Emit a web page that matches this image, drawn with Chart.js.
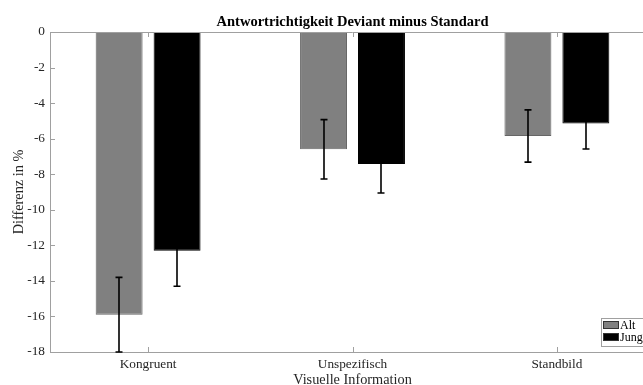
<!DOCTYPE html>
<html><head><meta charset="utf-8">
<script src="https://cdn.jsdelivr.net/npm/chart.js@4/dist/chart.umd.min.js"></script>
<style>html,body{margin:0;padding:0;overflow:hidden;background:#fff;width:643px;height:385px}canvas{display:block}</style>
</head><body>
<canvas id="c" width="655" height="392" style="width:655px;height:392px"></canvas>
<script>
const categories = ['Kongruent', 'Unspezifisch', 'Standbild'];
const altValues = [-15.9, -6.6, -5.85];
const altErrors = [2.1, 1.67, 1.47];
const jungValues = [-12.3, -7.43, -5.15];
const jungErrors = [2.0, 1.63, 1.43];
const yTicks = [0, -2, -4, -6, -8, -10, -12, -14, -16, -18];

const FONT = '"Liberation Serif", "Times New Roman", serif';
const AXIS = '#a0a0a0';
const TXT = '#262626';

const toPts = (vals) => vals.map((v, i) => ({x: i + 1, y: v}));

const errorBars = {
  id: 'errorBars',
  afterDatasetsDraw(chart) {
    const ctx = chart.ctx, ys = chart.scales.y;
    ctx.save();
    ctx.strokeStyle = '#000000';
    ctx.lineWidth = 1.6;
    chart.data.datasets.forEach((ds, di) => {
      const meta = chart.getDatasetMeta(di);
      meta.data.forEach((el, i) => {
        const v = ds.data[i].y, e = ds.errors[i];
        const y1 = ys.getPixelForValue(v + e), y2 = ys.getPixelForValue(v - e);
        const x = Math.round(el.x), cap = 3.5;
        ctx.beginPath();
        ctx.moveTo(x, y1); ctx.lineTo(x, y2);
        ctx.moveTo(x - cap, y1); ctx.lineTo(x + cap, y1);
        ctx.moveTo(x - cap, y2); ctx.lineTo(x + cap, y2);
        ctx.stroke();
      });
    });
    ctx.restore();
  }
};

const frame = {
  id: 'frame',
  afterDraw(chart) {
    const ctx = chart.ctx, a = chart.chartArea, xs = chart.scales.x, ys = chart.scales.y;
    ctx.save();
    ctx.strokeStyle = AXIS;
    ctx.lineWidth = 1;
    ctx.beginPath();
    ctx.moveTo(a.left, Math.round(a.top) + 0.5); ctx.lineTo(a.right, Math.round(a.top) + 0.5);
    ys.ticks.forEach(t => {
      const y = Math.round(ys.getPixelForValue(t.value)) + 0.5;
      ctx.moveTo(a.left, y); ctx.lineTo(a.left + 5, y);
    });
    xs.ticks.forEach(t => {
      const x = Math.round(xs.getPixelForValue(t.value)) + 0.5;
      ctx.moveTo(x, a.bottom); ctx.lineTo(x, a.bottom - 5);
      ctx.moveTo(x, a.top); ctx.lineTo(x, a.top + 5);
    });
    ctx.stroke();
    // legend inside plot, bottom right
    const w = 52, h = 28;
    const lx = a.right - w - 2, ly = a.bottom - h - 6;
    ctx.fillStyle = '#fff';
    ctx.fillRect(lx, ly, w, h);
    ctx.strokeRect(Math.round(lx) + 0.5, Math.round(ly) + 0.5, w, h);
    ctx.font = '12px ' + FONT;
    ctx.textBaseline = 'middle';
    chart.data.datasets.forEach((ds, i) => {
      const ry = ly + 3 + i * 12;
      ctx.fillStyle = ds.backgroundColor;
      ctx.fillRect(lx + 2, ry, 16, 8);
      ctx.strokeStyle = '#333';
      ctx.strokeRect(lx + 2.5, ry + 0.5, 15, 7);
      ctx.fillStyle = '#000';
      ctx.fillText(ds.label, lx + 19, ry + 4.5);
    });
    ctx.restore();
  }
};

new Chart(document.getElementById('c'), {
  type: 'bar',
  data: {
    datasets: [
      {label: 'Alt', data: toPts(altValues), errors: altErrors, backgroundColor: '#808080', borderColor: '#666666', borderWidth: 1, categoryPercentage: 0.567, barPercentage: 0.81},
      {label: 'Jung', data: toPts(jungValues), errors: jungErrors, backgroundColor: '#000000', borderColor: '#000000', borderWidth: 1, categoryPercentage: 0.567, barPercentage: 0.81}
    ]
  },
  options: {
    responsive: false,
    animation: false,
    layout: {padding: {left: 0, right: 0, top: 0, bottom: 0}},
    plugins: {
      legend: {display: false},
      tooltip: {enabled: false},
      title: {
        display: true, text: 'Antwortrichtigkeit Deviant minus Standard',
        fullSize: false, color: '#000',
        font: {family: FONT, size: 14.5, weight: 'bold'},
        padding: {top: 13.5, bottom: 1.1}
      }
    },
    scales: {
      x: {
        type: 'linear', min: 0.52, max: 3.48, offset: false,
        afterBuildTicks: (s) => { s.ticks = categories.map((c, i) => ({value: i + 1})); },
        afterFit: (s) => { s.height = 40; },
        grid: {display: false, drawTicks: false, offset: false},
        border: {display: true, color: AXIS, width: 1},
        ticks: {
          autoSkip: false, maxRotation: 0, padding: 5, color: TXT,
          font: {family: FONT, size: 13.3},
          callback: (v) => categories[v - 1] || ''
        },
        title: {display: true, text: 'Visuelle Information', color: TXT, font: {family: FONT, size: 14.3}, padding: {top: 0, bottom: 3.5}}
      },
      y: {
        min: -18, max: 0,
        afterBuildTicks: (s) => { s.ticks = yTicks.map(v => ({value: v})); },
        afterFit: (s) => { s.width = 50; },
        grid: {display: false, drawTicks: false},
        border: {display: true, color: AXIS, width: 1},
        ticks: {padding: 5, color: TXT, font: {family: FONT, size: 13.3}, callback: (v) => String(v)},
        title: {display: true, text: 'Differenz in %', color: TXT, font: {family: FONT, size: 14.3}, padding: {top: 10.4, bottom: 4}}
      }
    }
  },
  plugins: [errorBars, frame]
});
</script>
</body></html>
